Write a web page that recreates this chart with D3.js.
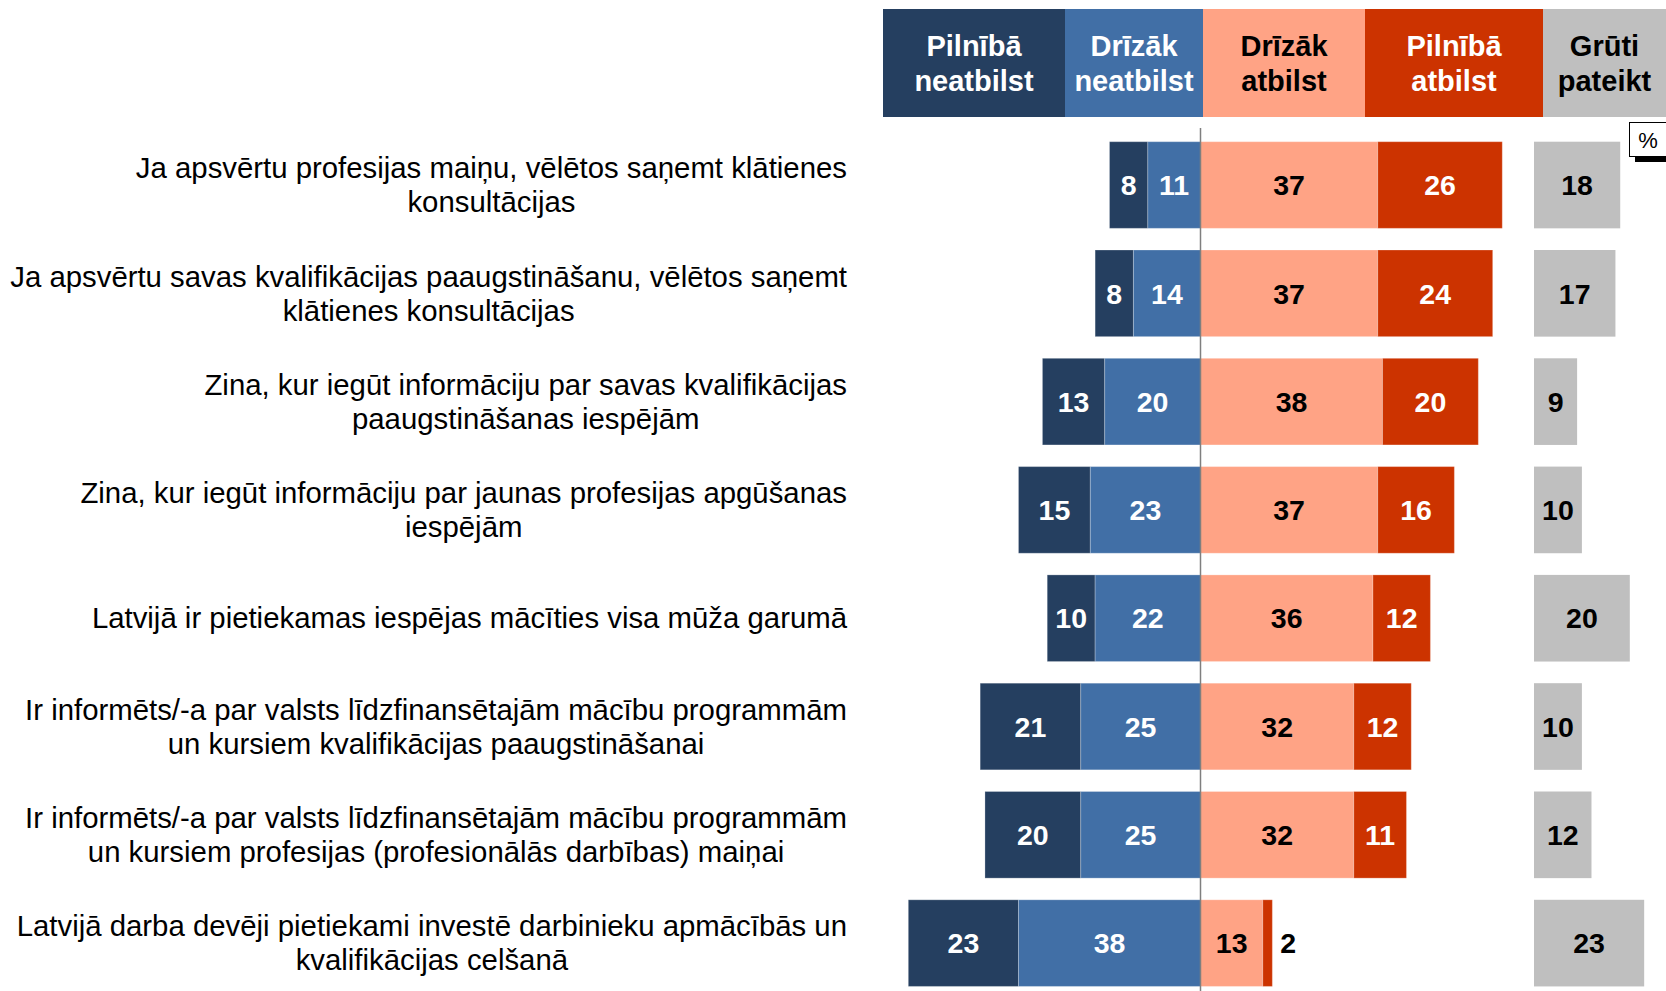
<!DOCTYPE html>
<html>
<head>
<meta charset="utf-8">
<script src="https://cdn.jsdelivr.net/npm/d3@7/dist/d3.min.js"></script>
<style>
  html, body { margin: 0; padding: 0; background: #ffffff; }
  svg { display: block; font-family: "Liberation Sans", Arial, Helvetica, sans-serif; }
</style>
</head>
<body>
<svg id="chart" width="1666" height="991"></svg>
<script>
// ---------- DATA ----------
const categories = [
  ["Ja apsvērtu profesijas maiņu, vēlētos saņemt klātienes", "konsultācijas"],
  ["Ja apsvērtu savas kvalifikācijas paaugstināšanu, vēlētos saņemt", "klātienes konsultācijas"],
  ["Zina, kur iegūt informāciju par savas kvalifikācijas", "paaugstināšanas iespējām"],
  ["Zina, kur iegūt informāciju par jaunas profesijas apgūšanas", "iespējām"],
  ["Latvijā ir pietiekamas iespējas mācīties visa mūža garumā"],
  ["Ir informēts/-a par valsts līdzfinansētajām mācību programmām", "un kursiem kvalifikācijas paaugstināšanai"],
  ["Ir informēts/-a par valsts līdzfinansētajām mācību programmām", "un kursiem profesijas (profesionālās darbības) maiņai"],
  ["Latvijā darba devēji pietiekami investē darbinieku apmācībās un", "kvalifikācijas celšanā"]
];
const seriesNames = [
  ["Pilnībā", "neatbilst"],
  ["Drīzāk", "neatbilst"],
  ["Drīzāk", "atbilst"],
  ["Pilnībā", "atbilst"],
  ["Grūti", "pateikt"]
];
const fullyDisagree = [8, 8, 13, 15, 10, 21, 20, 23];
const ratherDisagree = [11, 14, 20, 23, 22, 25, 25, 38];
const ratherAgree   = [37, 37, 38, 37, 36, 32, 32, 13];
const fullyAgree    = [26, 24, 20, 16, 12, 12, 11, 2];
const hardToSay     = [18, 17, 9, 10, 20, 10, 12, 23];
const unitLabel = "%";

// ---------- STYLE / LAYOUT ----------
const colors = ["#253F60", "#416FA6", "#FFA385", "#CC3300", "#BFBFBF"];
const textColors = ["#ffffff", "#ffffff", "#000000", "#ffffff", "#000000"];
const headerEdges = [883, 1065, 1203, 1365, 1543, 1666];
const center = 1200.5, unitPx = 4.79, grayStart = 1534;

const svg = d3.select("#chart");

const x = d3.scaleLinear().domain([-70, 70]).range([center - 70 * unitPx, center + 70 * unitPx]);
const xg = d3.scaleLinear().domain([0, 30]).range([grayStart, grayStart + 30 * unitPx]);
const y = d3.scaleBand()
  .domain(d3.range(categories.length))
  .range([130.87, 130.87 + 8 * 108.3])
  .paddingInner(0.2).paddingOuter(0.1);

// ---------- HEADER ----------
const hdr = svg.append("g");
seriesNames.forEach((lines, i) => {
  const x0 = headerEdges[i], x1 = headerEdges[i + 1];
  hdr.append("rect").attr("x", x0).attr("y", 9).attr("width", x1 - x0).attr("height", 108).attr("fill", colors[i]);
  const t = hdr.append("text").attr("text-anchor", "middle")
    .attr("font-weight", "bold").attr("font-size", 29).attr("fill", textColors[i]);
  lines.forEach((ln, j) => {
    t.append("tspan").attr("x", (x0 + x1) / 2).attr("y", 63 + (j - 0.5) * 35).attr("dy", "0.35em").text(ln);
  });
});

// ---------- BARS ----------
const rows = categories.map((c, i) => ({
  i,
  segs: [
    { k: 0, v: fullyDisagree[i], a: -(fullyDisagree[i] + ratherDisagree[i]), b: -ratherDisagree[i] },
    { k: 1, v: ratherDisagree[i], a: -ratherDisagree[i], b: 0 },
    { k: 2, v: ratherAgree[i], a: 0, b: ratherAgree[i] },
    { k: 3, v: fullyAgree[i], a: ratherAgree[i], b: ratherAgree[i] + fullyAgree[i] }
  ]
}));

const rowG = svg.append("g").selectAll("g").data(rows).join("g");

rowG.selectAll("rect.seg").data(d => d.segs.map(s => ({ ...s, i: d.i }))).join("rect")
  .attr("class", "seg")
  .attr("x", s => x(s.a)).attr("width", s => x(s.b) - x(s.a))
  .attr("y", s => y(s.i)).attr("height", y.bandwidth())
  .attr("fill", s => colors[s.k])
  .attr("stroke", "#ffffff").attr("stroke-opacity", 0.25).attr("stroke-width", 1);

rowG.selectAll("text.val").data(d => d.segs.map(s => ({ ...s, i: d.i }))).join("text")
  .attr("class", "val")
  .attr("font-weight", "bold").attr("font-size", 28.5)
  .attr("dy", "0.36em")
  .attr("y", s => y(s.i) + y.bandwidth() / 2)
  .each(function (s) {
    const w = x(s.b) - x(s.a);
    const sel = d3.select(this);
    if (w < 25) {
      sel.attr("x", x(s.b) + 8).attr("text-anchor", "start").attr("fill", "#000000");
    } else {
      sel.attr("x", (x(s.a) + x(s.b)) / 2).attr("text-anchor", "middle").attr("fill", textColors[s.k]);
    }
  })
  .text(s => s.v);

// gray "hard to say"
const grayG = svg.append("g");
grayG.selectAll("rect").data(hardToSay).join("rect")
  .attr("x", xg(0)).attr("width", v => xg(v) - xg(0))
  .attr("y", (v, i) => y(i)).attr("height", y.bandwidth())
  .attr("fill", colors[4]);
grayG.selectAll("text").data(hardToSay).join("text")
  .attr("x", v => (xg(0) + xg(v)) / 2)
  .attr("y", (v, i) => y(i) + y.bandwidth() / 2)
  .attr("dy", "0.36em").attr("text-anchor", "middle")
  .attr("font-weight", "bold").attr("font-size", 28.5).attr("fill", textColors[4])
  .text(v => v);

// center line
svg.append("line").attr("x1", x(0)).attr("x2", x(0)).attr("y1", 128).attr("y2", 991)
  .attr("stroke", "#7F7F7F").attr("stroke-width", 1.5);

// ---------- CATEGORY LABELS ----------
const labelRight = 847, lineGap = 34;
const labG = svg.append("g");
categories.forEach((lines, i) => {
  const cy = y(i) + y.bandwidth() / 2;
  const t = labG.append("text").attr("font-size", 29.35).attr("fill", "#000000").attr("text-anchor", "middle");
  const spans = lines.map((ln, j) =>
    t.append("tspan").attr("y", cy + (j - (lines.length - 1) / 2) * lineGap).attr("dy", "0.35em").text(ln));
  const maxW = d3.max(spans, s => s.node().getComputedTextLength());
  spans.forEach(s => s.attr("x", labelRight - maxW / 2));
});

// ---------- % BOX ----------
svg.append("rect").attr("x", 1635).attr("y", 152).attr("width", 40).attr("height", 10).attr("fill", "#000000");
svg.append("rect").attr("x", 1629.5).attr("y", 122.5).attr("width", 45).attr("height", 34)
  .attr("fill", "#ffffff").attr("stroke", "#000000").attr("stroke-width", 1);
svg.append("text").attr("x", 1648).attr("y", 140).attr("dy", "0.35em").attr("text-anchor", "middle")
  .attr("font-size", 22).attr("fill", "#000000").text(unitLabel);
</script>
</body>
</html>
